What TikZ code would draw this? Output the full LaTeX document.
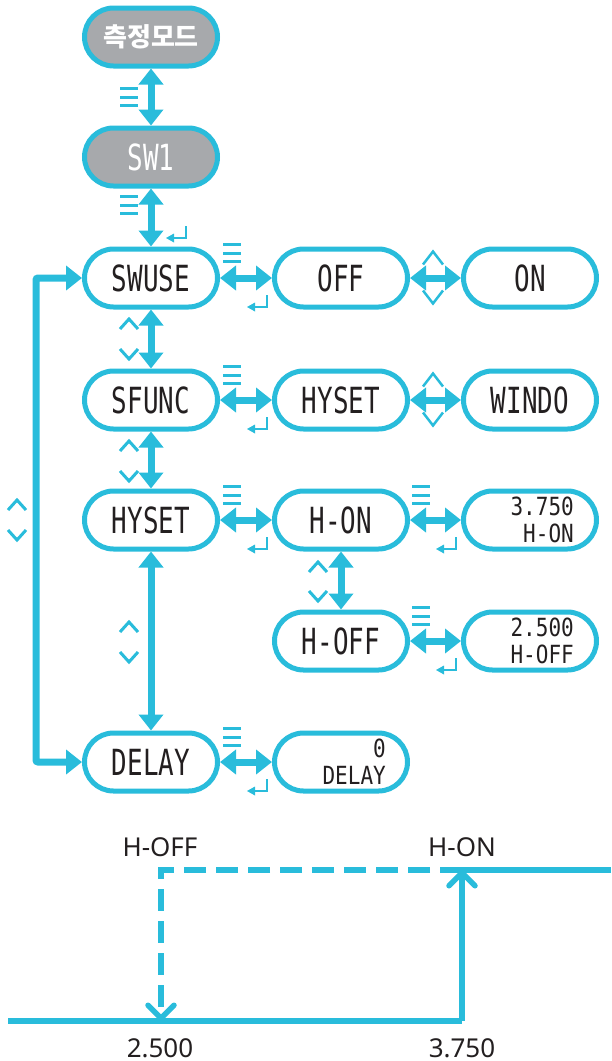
\documentclass[tikz,border=0pt]{standalone}
\usepackage{fontspec}
\usetikzlibrary{arrows.meta}
\newfontfamily\krfont{Noto Sans CJK KR}
\newfontfamily\labfont{Noto Sans}
\newfontfamily\lcdfont{DejaVu Sans Mono}[FakeStretch=0.72]
\newfontfamily\lcdsmallfont{DejaVu Sans Mono}[FakeStretch=0.84]
\definecolor{cy}{HTML}{29BCDB}
\definecolor{pillgray}{HTML}{A7A9AC}
\definecolor{ink}{HTML}{231F20}
\begin{document}
\begin{tikzpicture}[x=1pt,y=-1pt,
  pill/.style={draw=cy, line width=5pt, fill=white, rounded corners=29pt,
    minimum width=133pt, minimum height=58pt, inner sep=0pt,
    font=\lcdfont\fontsize{36}{36}\selectfont, text=ink},
  gpill/.style={pill, fill=pillgray, text=white},
  lcdsmall/.style={inner sep=0pt, align=right, anchor=east, text=ink,
    font=\lcdsmallfont\fontsize{25}{27}\selectfont},
  dbl/.style={draw=cy, line width=7pt,
    {Triangle[length=16pt,width=24pt]}-{Triangle[length=16pt,width=24pt]}},
  graphline/.style={draw=cy, line width=5.5pt},
  barb/.style={-{Straight Barb[length=13pt,width=26pt,round]}},
  lab/.style={font=\labfont\fontsize{26}{26}\selectfont, text=ink, inner sep=0pt,
    text depth=0pt, anchor=base},
  menu/.pic={\draw[cy, line width=3pt] (-9,-8.5) -- (9,-8.5) (-9,0) -- (9,0) (-9,8.5) -- (9,8.5);},
  ret/.pic={\draw[cy, line width=2.5pt] (9,-7) -- (9,5) -- (-4,5);
            \fill[cy] (-11,5) -- (-3,0.5) -- (-3,9.5) -- cycle;},
  chevup/.pic={\draw[cy, line width=3pt] (-9,5) -- (0,-5) -- (9,5);},
  chevdown/.pic={\draw[cy, line width=3pt] (-9,-5) -- (0,5) -- (9,-5);},
  tup/.pic={\draw[cy, line width=2.5pt] (-10,6.5) -- (0,-6.5) -- (10,6.5);},
  tdown/.pic={\draw[cy, line width=2.5pt] (-10,-6.5) -- (0,6.5) -- (10,-6.5);},
]
\useasboundingbox (0,0) rectangle (611,1061);

% column 1
\node[gpill, font=\krfont\bfseries\fontsize{26}{26}\selectfont] (mode) at (151,37) {측정모드};
\node[gpill] (sw1) at (151,157) {SW1};
\node[pill] (swuse) at (151,278) {SWUSE};
\node[pill] (sfunc) at (151,400) {SFUNC};
\node[pill] (hyset) at (151,520) {HYSET};
\node[pill] (delay) at (151,762) {DELAY};
% column 2
\node[pill] (off) at (341,278) {OFF};
\node[pill] (hyset2) at (341,400) {HYSET};
\node[pill] (hon) at (341,520) {H-ON};
\node[pill] (hoff) at (341,641) {H-OFF};
\node[pill] (delay0) at (341,762) {};
\node[lcdsmall] (delay0t) at (386,762) {0\\DELAY};
% column 3
\node[pill] (on) at (530,278) {ON};
\node[pill] (windo) at (530,400) {WINDO};
\node[pill] (v375) at (530,520) {};
\node[lcdsmall] (v375t) at (574,520) {3.750\\H-ON};
\node[pill] (v25) at (530,641) {};
\node[lcdsmall] (v25t) at (574,641) {2.500\\H-OFF};

% connectors
\draw[dbl] (mode) -- (sw1);
\draw[dbl] (sw1) -- (swuse);
\draw[dbl] (swuse) -- (sfunc);
\draw[dbl] (sfunc) -- (hyset);
\draw[dbl] (hyset) -- (delay);
\draw[dbl] (swuse) -- (off);
\draw[dbl] (off) -- (on);
\draw[dbl] (sfunc) -- (hyset2);
\draw[dbl] (hyset2) -- (windo);
\draw[dbl] (hyset) -- (hon);
\draw[dbl] (hon) -- (v375);
\draw[dbl] (hon) -- (hoff);
\draw[dbl] (hoff) -- (v25);
\draw[dbl] (delay) -- (delay0);
\coordinate (loop) at (36,520);
\draw[dbl, rounded corners=2pt] (swuse.west) -| (loop) |- (delay.west);

% icons
\pic at (129,97) {menu};
\pic at (129,205) {menu};
\pic at (177,233) {ret};
\foreach \y in {278,400,520,762} {
  \pic at (232,\y-25) {menu};
  \pic at (258,\y+24) {ret};
}
\foreach \y in {520,641} {
  \pic at (421,\y-25) {menu};
  \pic at (447,\y+24) {ret};
}
\foreach \y in {339,461,642} {
  \pic at (129,\y-15) {chevup};
  \pic at (129,\y+15) {chevdown};
}
\pic at (17,505) {chevup};
\pic at (17,535) {chevdown};
\pic at (318,567) {chevup};
\pic at (318,596) {chevdown};
\foreach \y in {278,400} {
  \pic at (433,\y-20) {tup};
  \pic at (433,\y+19) {tdown};
}

% hysteresis graph
\coordinate (b0) at (8,1021);
\coordinate (b1) at (462,1021);
\coordinate (t1) at (462,870);
\coordinate (t2) at (611,870);
\coordinate (d0) at (161,870);
\coordinate (d1) at (161,1021);
\draw[graphline] (b0) -- (b1);
\draw[graphline, barb] (b1) -- (t1);
\draw[graphline] (t1) -- (t2);
\draw[graphline, barb, dash pattern=on 22pt off 10pt] (t1) -- (d0) -- (d1);
\node[lab] (lhoff) at (160,856) {H-OFF};
\node[lab] (lhon) at (462,856) {H-ON};
\node[lab] (l25) at (160,1057) {2.500};
\node[lab] (l375) at (462,1057) {3.750};
\end{tikzpicture}
\end{document}
